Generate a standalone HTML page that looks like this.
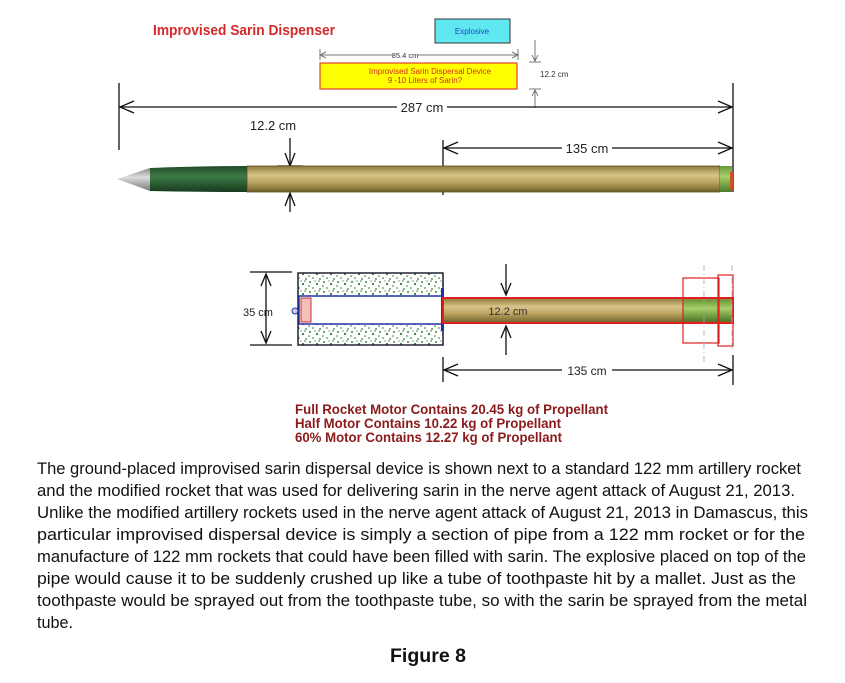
<!DOCTYPE html>
<html><head><meta charset="utf-8"><style>
html,body{margin:0;padding:0;background:#fff;width:845px;height:683px;overflow:hidden}
svg{display:block}
text{font-family:"Liberation Sans",Arial,sans-serif}
</style></head><body>
<svg width="845" height="683" viewBox="0 0 845 683" xmlns="http://www.w3.org/2000/svg">
<defs>
<linearGradient id="tan" x1="0" y1="0" x2="0" y2="1">
<stop offset="0" stop-color="#8a7a3a"/><stop offset="0.35" stop-color="#d8c48a"/><stop offset="0.6" stop-color="#bfa865"/><stop offset="1" stop-color="#6e5f28"/></linearGradient>
<linearGradient id="grn" x1="0" y1="0" x2="0" y2="1">
<stop offset="0" stop-color="#1f4a28"/><stop offset="0.4" stop-color="#3d7a45"/><stop offset="1" stop-color="#173a1e"/></linearGradient>
<linearGradient id="lg" x1="0" y1="0" x2="0" y2="1">
<stop offset="0" stop-color="#6a9a3a"/><stop offset="0.4" stop-color="#a8cf6a"/><stop offset="1" stop-color="#4e7a2a"/></linearGradient>
<linearGradient id="cone" x1="0" y1="0" x2="0" y2="1">
<stop offset="0" stop-color="#888"/><stop offset="0.4" stop-color="#ddd"/><stop offset="1" stop-color="#777"/></linearGradient>
<pattern id="spk" width="14" height="10" patternUnits="userSpaceOnUse">
<rect width="14" height="10" fill="#fff"/>
<circle cx="2" cy="2" r="1" fill="#3a8a3a"/><circle cx="9" cy="4" r="1.1" fill="#2e7a30"/><circle cx="5" cy="8" r="0.9" fill="#4a9a4a"/><circle cx="12" cy="9" r="0.9" fill="#2e7a30"/><circle cx="7" cy="1" r="0.6" fill="#555"/><circle cx="11" cy="1" r="0.8" fill="#3a8a3a"/><circle cx="1" cy="6" r="0.8" fill="#2e7a30"/>
</pattern>
</defs>

<text x="153" y="35" font-size="15" font-weight="bold" fill="#d42a2a" textLength="182" lengthAdjust="spacingAndGlyphs">Improvised Sarin Dispenser</text>

<rect x="435" y="19" width="75" height="24" fill="#5fe8ef" stroke="#333" stroke-width="1"/>
<text x="472" y="34" font-size="8" fill="#2244cc" text-anchor="middle">Explosive</text>

<g stroke="#777" stroke-width="1" fill="none">
<line x1="320" y1="49" x2="320" y2="60"/><line x1="518" y1="49" x2="518" y2="60"/>
<line x1="320" y1="55" x2="392" y2="55"/><line x1="418" y1="55" x2="518" y2="55"/>
<path d="M326 52 L320 55 L326 58 M512 52 L518 55 L512 58"/>
</g>
<text x="405" y="58" font-size="7.5" fill="#333" text-anchor="middle">85.4 cm</text>

<rect x="320" y="63" width="197" height="26" fill="#ffff00" stroke="#e04030" stroke-width="1.2"/>
<text x="430" y="74" font-size="8" fill="#d03020" text-anchor="middle">Improvised Sarin Dispersal Device</text>
<text x="425" y="83" font-size="8" fill="#d03020" text-anchor="middle">9 -10 Liters of Sarin?</text>

<g stroke="#555" stroke-width="0.8" fill="none">
<line x1="535" y1="40" x2="535" y2="60"/><line x1="529" y1="62" x2="541" y2="62"/>
<line x1="529" y1="89" x2="541" y2="89"/><line x1="535" y1="90" x2="535" y2="108"/>
<path d="M532 55 L535 61 L538 55 M532 96 L535 90 L538 96"/>
</g>
<text x="540" y="77" font-size="8" fill="#333">12.2 cm</text>

<g stroke="#111" stroke-width="1.3" fill="none">
<line x1="119" y1="83" x2="119" y2="150"/><line x1="733" y1="83" x2="733" y2="192"/>
<line x1="119" y1="107" x2="397" y2="107"/><line x1="447" y1="107" x2="733" y2="107"/>
<path d="M134 101 L120 107 L134 113 M718 101 L732 107 L718 113"/>
<line x1="443" y1="140" x2="443" y2="195"/>
<line x1="443" y1="148" x2="562" y2="148"/><line x1="612" y1="148" x2="733" y2="148"/>
<path d="M458 142 L444 148 L458 154 M718 142 L732 148 L718 154"/>
<line x1="290" y1="138" x2="290" y2="166"/><path d="M285 153 L290 166 L295 153"/>
<line x1="290" y1="193" x2="290" y2="212"/><path d="M285 206 L290 193 L295 206"/>
<line x1="277" y1="166" x2="303" y2="166"/>
</g>
<text x="422" y="112" font-size="13" fill="#222" text-anchor="middle">287 cm</text>
<text x="587" y="153" font-size="13" fill="#222" text-anchor="middle">135 cm</text>
<text x="273" y="130" font-size="13" fill="#222" text-anchor="middle">12.2 cm</text>

<path d="M117 179 L150 168 L150 191 Z" fill="url(#cone)"/>
<path d="M150 168 Q200 166 247 166 L247 192 Q200 192 150 191 Z" fill="url(#grn)"/>
<rect x="247" y="166" width="473" height="26" fill="url(#tan)" stroke="#5a4e20" stroke-width="0.8"/>
<rect x="720" y="166" width="12" height="26" fill="url(#lg)"/>
<rect x="730" y="172" width="3" height="18" fill="#d05020"/>

<g stroke="#111" stroke-width="1.3" fill="none">
<line x1="250" y1="272" x2="292" y2="272"/><line x1="250" y1="345" x2="292" y2="345"/>
<line x1="266" y1="274" x2="266" y2="343"/>
<path d="M261 286 L266 274 L271 286 M261 331 L266 343 L271 331"/>
<line x1="506" y1="264" x2="506" y2="295"/><path d="M501 283 L506 295 L511 283"/>
<line x1="506" y1="326" x2="506" y2="355"/><path d="M501 338 L506 326 L511 338"/>
<line x1="443" y1="357" x2="443" y2="382"/><line x1="733" y1="355" x2="733" y2="385"/>
<line x1="443" y1="370" x2="562" y2="370"/><line x1="612" y1="370" x2="733" y2="370"/>
<path d="M458 364 L444 370 L458 376 M718 364 L732 370 L718 376"/>
</g>
<text x="243" y="316" font-size="11" fill="#222">35 cm</text>
<text x="587" y="375" font-size="12" fill="#222" text-anchor="middle">135 cm</text>

<rect x="298" y="273" width="145" height="72" fill="url(#spk)" stroke="#223" stroke-width="1.5"/>
<rect x="299" y="296" width="144" height="28" fill="#fff" stroke="#2233aa" stroke-width="1.5"/>
<rect x="301" y="298" width="10" height="24" fill="#f3c0b8" stroke="#d03030" stroke-width="1"/>
<circle cx="295" cy="311" r="3" fill="#ccd" stroke="#2233aa"/>
<rect x="441" y="288" width="3" height="43" fill="#2233aa"/>
<rect x="443" y="298" width="290" height="25" fill="url(#tan)" stroke="#e02020" stroke-width="2"/>
<rect x="683" y="300" width="48" height="21" fill="url(#lg)"/>
<text x="508" y="315" font-size="11" fill="#333" text-anchor="middle">12.2 cm</text>
<g stroke="#e02020" stroke-width="1.2" fill="none">
<rect x="683" y="278" width="36" height="65"/>
<rect x="718" y="275" width="15" height="71"/>
</g>
<g stroke="#aaa" stroke-width="0.8" stroke-dasharray="6,3,1,3">
<line x1="704" y1="265" x2="704" y2="362"/><line x1="732" y1="265" x2="732" y2="350"/>
</g>

<g font-size="13.5" font-weight="bold" fill="#8b1a1a">
<text x="295" y="414" textLength="313" lengthAdjust="spacingAndGlyphs">Full Rocket Motor Contains 20.45 kg of Propellant</text>
<text x="295" y="428" textLength="266" lengthAdjust="spacingAndGlyphs">Half Motor Contains 10.22 kg of Propellant</text>
<text x="295" y="442" textLength="267" lengthAdjust="spacingAndGlyphs">60% Motor Contains 12.27 kg of Propellant</text>
</g>

<g font-size="17" fill="#111">
<text x="37" y="474" textLength="764" lengthAdjust="spacingAndGlyphs">The ground-placed improvised sarin dispersal device is shown next to a standard 122 mm artillery rocket</text>
<text x="37" y="496" textLength="758" lengthAdjust="spacingAndGlyphs">and the modified rocket that was used for delivering sarin in the nerve agent attack of August 21, 2013.</text>
<text x="37" y="518" textLength="771" lengthAdjust="spacingAndGlyphs">Unlike the modified artillery rockets used in the nerve agent attack of August 21, 2013 in Damascus, this</text>
<text x="37" y="540" textLength="768" lengthAdjust="spacingAndGlyphs">particular improvised dispersal device is simply a section of pipe from a 122 mm rocket or for the</text>
<text x="37" y="562" textLength="769" lengthAdjust="spacingAndGlyphs">manufacture of 122 mm rockets that could have been filled with sarin.  The explosive placed on top of the</text>
<text x="37" y="584" textLength="759" lengthAdjust="spacingAndGlyphs">pipe would cause it to be suddenly crushed up like a tube of toothpaste hit by a mallet.  Just as the</text>
<text x="37" y="606" textLength="770" lengthAdjust="spacingAndGlyphs">toothpaste would be sprayed out from the toothpaste tube, so with the sarin be sprayed from the metal</text>
<text x="37" y="628" textLength="36" lengthAdjust="spacingAndGlyphs">tube.</text>
</g>
<text x="428" y="662" font-size="19" font-weight="bold" fill="#111" text-anchor="middle" textLength="76" lengthAdjust="spacingAndGlyphs">Figure 8</text>
</svg>
</body></html>
